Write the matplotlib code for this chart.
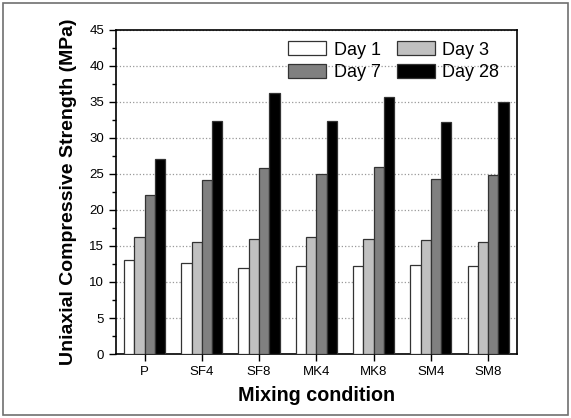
import matplotlib
matplotlib.use("Agg")
import matplotlib.pyplot as plt
import numpy as np
from matplotlib.patches import Rectangle
from matplotlib.ticker import MultipleLocator

categories = ["P", "SF4", "SF8", "MK4", "MK8", "SM4", "SM8"]
series_names = ["Day 1", "Day 3", "Day 7", "Day 28"]
day1 = [13.0, 12.6, 12.0, 12.2, 12.2, 12.4, 12.2]
day3 = [16.3, 15.5, 16.0, 16.2, 15.9, 15.8, 15.5]
day7 = [22.0, 24.1, 25.8, 25.0, 25.9, 24.3, 24.9]
day28 = [27.1, 32.4, 36.2, 32.4, 35.7, 32.2, 35.0]
colors = ["#ffffff", "#c0c0c0", "#808080", "#000000"]

plt.rcParams['font.family'] = ['Liberation Sans', 'DejaVu Sans']

fig = plt.figure(figsize=(5.71, 4.18), dpi=100)
ax = fig.add_axes([0.203, 0.153, 0.702, 0.776])
fig.patches.append(Rectangle((0.006, 0.007), 0.988, 0.986, transform=fig.transFigure,
                             fill=False, edgecolor="#707070", linewidth=1.2))

x = np.arange(len(categories))
w = 0.18
handles = []
for i, (vals, name, c) in enumerate(zip([day1, day3, day7, day28], series_names, colors)):
    h = ax.bar(x + (i - 1.5) * w, vals, width=w, color=c, edgecolor="#333333",
               linewidth=0.9, label=name, zorder=3)
    handles.append(h)

ax.set_xlim(-0.5, 6.5)
ax.set_ylim(0, 45)
ax.set_xticks(x)
ax.set_xticklabels(categories)
ax.yaxis.set_major_locator(MultipleLocator(5))
ax.yaxis.set_minor_locator(MultipleLocator(2.5))
ax.tick_params(axis='both', which='major', direction='out', length=5, width=1, labelsize=9.5, colors='black')
ax.tick_params(axis='y', which='minor', direction='out', length=3, width=1)
ax.grid(axis='y', which='major', linestyle=':', color='#999999', linewidth=0.9, zorder=0)
for s in ax.spines.values():
    s.set_linewidth(1.2)

ax.set_ylabel("Uniaxial Compressive Strength (MPa)", fontsize=14, fontweight='bold', labelpad=9)
ax.set_xlabel("Mixing condition", fontsize=14.2, fontweight='bold', labelpad=6)

order = [0, 2, 1, 3]
ax.legend([handles[k] for k in order], [series_names[k] for k in order],
          ncol=2, loc='upper right', bbox_to_anchor=(0.985, 1.0), frameon=False,
          fontsize=13, handlelength=2.1, handleheight=0.8, columnspacing=0.9,
          handletextpad=0.4, labelspacing=0.3, borderaxespad=0.25)

fig.savefig("out.png", dpi=100)
